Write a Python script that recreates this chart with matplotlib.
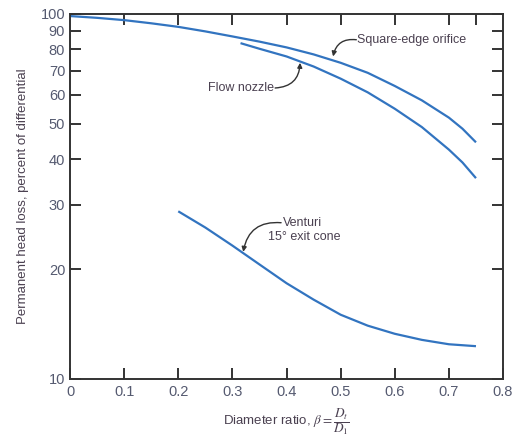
import matplotlib.pyplot as plt
from matplotlib.ticker import FixedLocator, NullLocator

# ---- data ----
orifice_beta = [0.0, 0.05, 0.1, 0.15, 0.2, 0.25, 0.3, 0.35, 0.4, 0.45, 0.5,
                0.55, 0.6, 0.65, 0.7, 0.725, 0.75]
orifice_loss = [98.7, 97.6, 96.2, 94.3, 92.2, 89.6, 86.8, 84.0, 81.0, 77.5, 73.5,
                69.0, 63.5, 58.0, 52.0, 48.5, 44.5]

nozzle_beta = [0.315, 0.35, 0.4, 0.45, 0.5, 0.55, 0.6, 0.65, 0.7, 0.725, 0.75]
nozzle_loss = [83.2, 80.3, 76.5, 71.8, 66.5, 61.0, 55.0, 49.0, 42.5, 39.2, 35.5]

venturi_beta = [0.2, 0.25, 0.3, 0.35, 0.4, 0.45, 0.5, 0.55, 0.6, 0.65, 0.7, 0.75]
venturi_loss = [28.8, 26.0, 23.2, 20.6, 18.3, 16.5, 15.0, 14.0, 13.3, 12.8, 12.45, 12.3]

y_ticks = [10, 20, 30, 40, 50, 60, 70, 80, 90, 100]
x_ticks = [0, 0.1, 0.2, 0.3, 0.4, 0.5, 0.6, 0.7, 0.8]
x_tick_labels = ["0", "0.1", "0.2", "0.3", "0.4", "0.5", "0.6", "0.7", "0.8"]
top_ticks = [0.1, 0.2, 0.3, 0.4, 0.5, 0.6, 0.7, 0.75]

LINE = "#3274c0"
INK = "#333333"
TXT = "#4a4050"

plt.rcParams['font.family'] = ['Liberation Sans', 'DejaVu Sans']
plt.rcParams['mathtext.fontset'] = 'stix'

fig = plt.figure(figsize=(5.17, 4.44), dpi=100)
ax = fig.add_axes([0.1354, 0.1464, 0.8376, 0.8221])

ax.plot(orifice_beta, orifice_loss, color=LINE, lw=1.6, solid_capstyle='butt')
ax.plot(nozzle_beta, nozzle_loss, color=LINE, lw=1.6, solid_capstyle='butt')
ax.plot(venturi_beta, venturi_loss, color=LINE, lw=1.6, solid_capstyle='butt')

ax.set_yscale('log')
ax.set_ylim(10, 100)
ax.set_xlim(0, 0.8)
ax.yaxis.set_major_locator(FixedLocator(y_ticks))
ax.yaxis.set_minor_locator(NullLocator())
ax.set_yticklabels([str(v) for v in y_ticks])
ax.set_xticks(x_ticks)
ax.set_xticklabels(x_tick_labels)

for s in ax.spines.values():
    s.set_color(INK)
    s.set_linewidth(1.4)
ax.tick_params(direction='in', length=8, width=1.4, color=INK,
               labelsize=10.5, labelcolor="#555a70", right=True)
ax.tick_params(axis='x', pad=4)

# top ticks incl. the extra one at 0.75
top = ax.secondary_xaxis('top')
top.set_xticks(top_ticks)
top.tick_params(direction='in', length=8, width=1.4, color=INK, labeltop=False)
top.spines['top'].set_visible(False)

ax.set_ylabel("Permanent head loss, percent of differential", fontsize=9.5, color=TXT, labelpad=8)
ax.set_xlabel(r"Diameter ratio, $\beta = \dfrac{D_t}{D_1}$", fontsize=9.5, color=TXT, labelpad=6)

# labels and curved leader arrows
arrow = dict(arrowstyle='-|>', color=INK, lw=1.0, mutation_scale=7,
             shrinkA=0, shrinkB=0)
ax.text(0.531, 85.0, "Square-edge orifice", fontsize=9, color=TXT, va='center', ha='left')
ax.annotate("", xy=(0.486, 76.5), xytext=(0.529, 85.0),
            arrowprops=dict(connectionstyle="arc3,rad=0.45", **arrow))
ax.text(0.376, 62.7, "Flow nozzle", fontsize=9, color=TXT, va='center', ha='right')
ax.annotate("", xy=(0.425, 73.5), xytext=(0.379, 62.7),
            arrowprops=dict(connectionstyle="arc3,rad=0.45", **arrow))
ax.text(0.3925, 26.8, "Venturi", fontsize=9, color=TXT, va='center', ha='left')
ax.text(0.365, 24.5, "15° exit cone", fontsize=9, color=TXT, va='center', ha='left')
ax.annotate("", xy=(0.320, 22.3), xytext=(0.39, 26.8),
            arrowprops=dict(connectionstyle="arc3,rad=0.45", **arrow))

fig.savefig("out.png", dpi=100)
